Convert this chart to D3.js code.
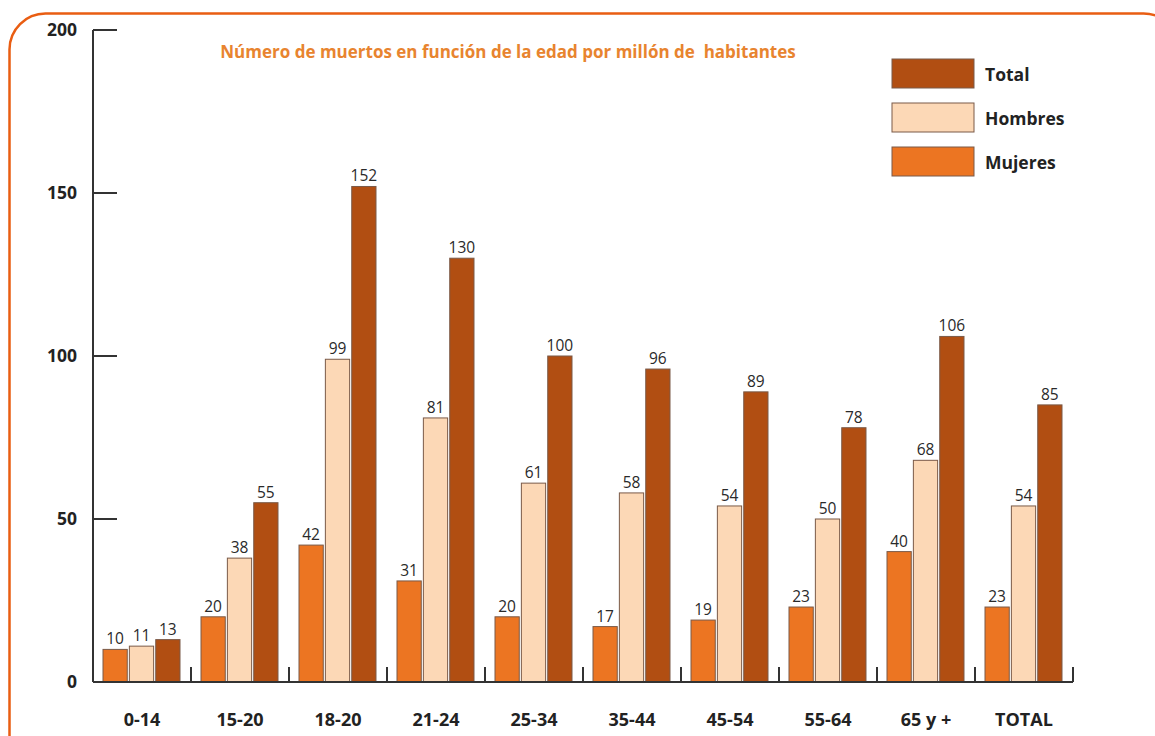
<!DOCTYPE html>
<html>
<head>
<meta charset="utf-8">
<script src="https://cdn.jsdelivr.net/npm/d3@7"></script>
<style>
  html, body { margin: 0; padding: 0; background: #fff; }
  svg { display: block; font-family: "Open Sans", "Noto Sans", sans-serif; }
</style>
</head>
<body>
<svg id="chart" width="1155" height="736"></svg>
<script>
// Deaths per million inhabitants by age group
const categories = ["0-14", "15-20", "18-20", "21-24", "25-34", "35-44", "45-54", "55-64", "65 y +", "TOTAL"];
const mujeres = [10, 20, 42, 31, 20, 17, 19, 23, 40, 23];
const hombres = [11, 38, 99, 81, 61, 58, 54, 50, 68, 54];
const total   = [13, 55, 152, 130, 100, 96, 89, 78, 106, 85];
const seriesNames = ["Mujeres", "Hombres", "Total"];
const yTicks = [0, 50, 100, 150, 200];
const title = "Número de muertos en función de la edad por millón de  habitantes";

const colors = { Mujeres: "#ec7522", Hombres: "#fcd8b6", Total: "#b14e12" };
const seriesValues = { Mujeres: mujeres, Hombres: hombres, Total: total };

const svg = d3.select("#chart");

// rounded frame
svg.append("rect")
  .attr("x", 9.5).attr("y", 13.5)
  .attr("width", 1170).attr("height", 770)
  .attr("rx", 36).attr("ry", 36)
  .attr("fill", "none").attr("stroke", "#e95d12").attr("stroke-width", 2.5);

const plotLeft = 93, plotRight = 1073, plotTop = 30, plotBottom = 682;

const x0 = d3.scaleBand().domain(categories).range([plotLeft, plotRight]).padding(0);
const x1 = d3.scaleBand().domain(seriesNames).range([10, 87]).paddingInner(0.08).paddingOuter(0);
const y = d3.scaleLinear().domain([0, 200]).range([plotBottom, plotTop]);

// bars
const groups = svg.append("g").selectAll("g")
  .data(categories)
  .join("g")
  .attr("transform", d => `translate(${x0(d)},0)`);

groups.selectAll("rect")
  .data((c, i) => seriesNames.map(s => ({ s, v: seriesValues[s][i] })))
  .join("rect")
  .attr("x", d => x1(d.s))
  .attr("y", d => y(d.v))
  .attr("width", x1.bandwidth())
  .attr("height", d => y(0) - y(d.v))
  .attr("fill", d => colors[d.s])
  .attr("stroke", "#7a5a48")
  .attr("stroke-width", 1);

// value labels
groups.selectAll("text")
  .data((c, i) => seriesNames.map(s => ({ s, v: seriesValues[s][i] })))
  .join("text")
  .attr("x", d => x1(d.s) + x1.bandwidth() / 2)
  .attr("y", d => y(d.v) - 5)
  .attr("text-anchor", "middle")
  .attr("font-size", 15.5)
  .attr("fill", "#2a2a2a")
  .text(d => d.v);

// y axis
const yAxis = svg.append("g");
yAxis.append("line")
  .attr("x1", plotLeft).attr("x2", plotLeft)
  .attr("y1", plotTop).attr("y2", plotBottom)
  .attr("stroke", "#333").attr("stroke-width", 2);
yAxis.selectAll("line.tick")
  .data(yTicks.filter(t => t > 0))
  .join("line")
  .attr("class", "tick")
  .attr("x1", plotLeft).attr("x2", plotLeft + 24)
  .attr("y1", d => y(d)).attr("y2", d => y(d))
  .attr("stroke", "#333").attr("stroke-width", 2);
yAxis.selectAll("text")
  .data(yTicks)
  .join("text")
  .attr("x", 77)
  .attr("y", d => y(d) + 6)
  .attr("text-anchor", "end")
  .attr("font-size", 17.5)
  .attr("font-weight", "bold")
  .attr("fill", "#222")
  .text(d => d);

// x axis
const xAxis = svg.append("g");
xAxis.append("line")
  .attr("x1", plotLeft).attr("x2", plotRight)
  .attr("y1", plotBottom).attr("y2", plotBottom)
  .attr("stroke", "#333").attr("stroke-width", 2);
xAxis.selectAll("line.tick")
  .data(categories)
  .join("line")
  .attr("class", "tick")
  .attr("x1", d => x0(d) + x0.bandwidth()).attr("x2", d => x0(d) + x0.bandwidth())
  .attr("y1", plotBottom).attr("y2", plotBottom - 15)
  .attr("stroke", "#333").attr("stroke-width", 2);
xAxis.selectAll("text")
  .data(categories)
  .join("text")
  .attr("x", d => x0(d) + x0.bandwidth() / 2)
  .attr("y", 726)
  .attr("text-anchor", "middle")
  .attr("font-size", 18)
  .attr("font-weight", "bold")
  .attr("fill", "#222")
  .text(d => d);

// title
svg.append("text")
  .attr("x", 508).attr("y", 58)
  .attr("text-anchor", "middle")
  .attr("font-size", 17)
  .attr("font-weight", "bold")
  .attr("fill", "#e8842f")
  .attr("xml:space", "preserve")
  .style("white-space", "pre")
  .text(title);

// legend
const legendOrder = ["Total", "Hombres", "Mujeres"];
const legend = svg.append("g").selectAll("g")
  .data(legendOrder)
  .join("g")
  .attr("transform", (d, i) => `translate(892,${59 + i * 44})`);
legend.append("rect")
  .attr("width", 82).attr("height", 29)
  .attr("fill", d => colors[d])
  .attr("stroke", "#7a5a48").attr("stroke-width", 1);
legend.append("text")
  .attr("x", 93).attr("y", 22)
  .attr("font-size", 17.5)
  .attr("font-weight", "bold")
  .attr("fill", "#222")
  .text(d => d);
</script>
</body>
</html>
